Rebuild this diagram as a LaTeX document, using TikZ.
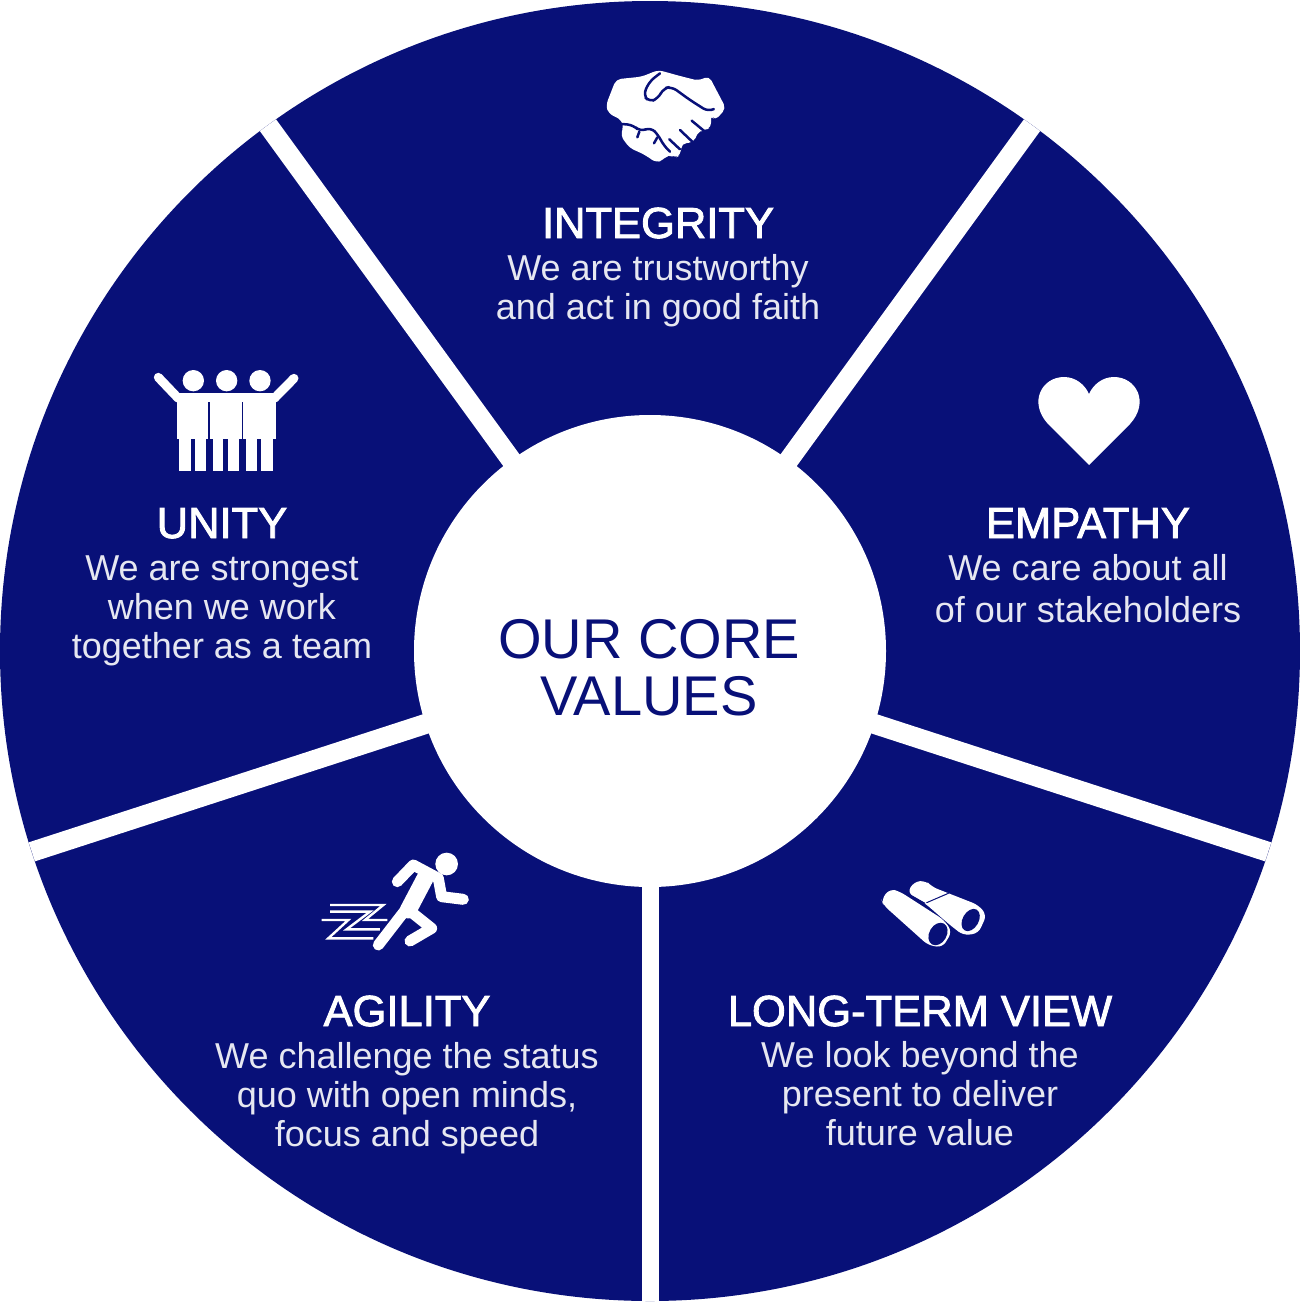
\documentclass[tikz,border=0pt]{standalone}
\usepackage{fontspec}
\usetikzlibrary{calc}
\setmainfont{Liberation Sans}
\newfontface\headface{Liberation Sans}[FakeBold=2]
\definecolor{navy}{RGB}{8,16,120}
\tikzset{
  headtext/.style={text=white,anchor=base,inner sep=0pt,font=\headface\fontsize{43.5}{44}\selectfont},
  bodytext/.style={text=white!90!navy,anchor=base,inner sep=0pt,font=\fontsize{36}{36}\selectfont},
  coretext/.style={text=navy,anchor=base,inner sep=0pt,font=\fontsize{56}{56}\selectfont},
  spoke/.style={draw=white,line width=20pt},
  iconline/.style={draw=navy,line width=2.5pt,line cap=round,line join=round},
  limb/.style={draw=white,line width=11pt,line cap=round,line join=round},
  armlimb/.style={draw=white,line width=9pt,line cap=round,line join=round},
  speed/.style={draw=white,line width=2.4pt,line join=miter},
}
\begin{document}
\begin{tikzpicture}[x=1pt,y=-1pt]
\useasboundingbox (0,0) rectangle (1300,1302);
\coordinate (hub) at (650,651);
\fill[navy] (hub) circle (650);
\foreach \a/\n in {18/b,-54/c,234/d,162/e}{
  \coordinate (rim\n) at ($(hub)+(\a:650)$);
  \draw[spoke] (hub) -- (rim\n);
}
\coordinate (rima) at ($(hub)+(90:650)$);
\draw[spoke,line width=17pt] (hub) -- (rima);
\fill[white] (hub) circle (236);

% Centre
\node[coretext] (core1) at (649,658) {OUR CORE};
\node[coretext] (core2) at (649,715) {VALUES};

% Integrity
\node[headtext] (int0) at (658,238) {INTEGRITY};
\node[bodytext] (int1) at (658,280) {We are trustworthy};
\node[bodytext] (int2) at (658,319) {and act in good faith};
% Empathy
\node[headtext] (emp0) at (1088,538) {EMPATHY};
\node[bodytext] (emp1) at (1088,580) {We care about all};
\node[bodytext] (emp2) at (1088,622) {of our stakeholders};
% Unity
\node[headtext] (uni0) at (222,538) {UNITY};
\node[bodytext] (uni1) at (222,580) {We are strongest};
\node[bodytext] (uni2) at (222,619) {when we work};
\node[bodytext] (uni3) at (222,658) {together as a team};
% Agility
\node[headtext] (agi0) at (407,1026) {AGILITY};
\node[bodytext] (agi1) at (407,1068) {We challenge the status};
\node[bodytext] (agi2) at (407,1107) {quo with open minds,};
\node[bodytext] (agi3) at (407,1146) {focus and speed};
% Long-term view
\node[headtext] (lon0) at (920,1026) {LONG-TERM VIEW};
\node[bodytext] (lon1) at (920,1067) {We look beyond the};
\node[bodytext] (lon2) at (920,1106) {present to deliver};
\node[bodytext] (lon3) at (920,1145) {future value};

% Heart
\fill[white] (1089,465) -- (1048,424) .. controls (1028,402) and (1042,377) .. (1064,377)
  .. controls (1076,377) and (1085,385) .. (1089,394)
  .. controls (1093,385) and (1102,377) .. (1114,377)
  .. controls (1136,377) and (1150,402) .. (1130,424) -- cycle;

% Handshake
\begin{scope}[shift={(580pt,-50pt)},x=0.3333pt,y=-0.3333pt]
\fill[white,rounded corners=5pt] (78,165) -- (108,88) -- (185,80) -- (235,60) -- (300,78) -- (355,92) -- (387,78)
  -- (438,175) -- (405,212) -- (392,195) -- (395,230) -- (375,242) -- (358,240) -- (340,278) -- (305,280)
  -- (302,315) -- (285,324) -- (265,312) -- (250,330) -- (228,338) -- (200,318) -- (175,305) -- (150,295)
  -- (122,258) -- (130,232) -- (125,210) -- (85,190) -- cycle;
\draw[iconline,rounded corners=6pt] (240,70) -- (208,95) -- (190,135) -- (208,156) -- (235,145) -- (250,115)
  -- (275,110) -- (330,150) -- (385,185) -- (400,178);
\draw[iconline] (335,212) -- (375,245);
\draw[iconline] (300,240) -- (340,278);
\draw[iconline] (268,268) -- (300,298);
\draw[iconline,rounded corners=6pt] (125,222) -- (160,225) -- (180,245) -- (212,232) -- (235,255) -- (250,285) -- (270,305);
\draw[iconline] (178,245) -- (172,262);
\draw[iconline] (232,262) -- (222,280);
\end{scope}

% Unity group
\begin{scope}[shift={(140pt,-360pt)},x=0.3333pt,y=-0.3333pt]
\foreach \c in {160,260,360}{\fill[white] (\c,62) circle (32);}
\fill[white] (110,100) rectangle (408,238);
\foreach \l/\r in {118/152,164/198,218/250,264/298,318/352,364/398}{
  \fill[white] (\l,230) rectangle (\r,333);}
\draw[armlimb] (55,52) -- (115,115);
\draw[armlimb] (462,55) -- (403,115);
\fill[navy] (205,125) rectangle (210,238);
\fill[navy] (305,125) rectangle (310,238);
\end{scope}

% Runner
\begin{scope}[shift={(310pt,-840pt)},x=0.3333pt,y=-0.3333pt]
\fill[white] (410,72) circle (34);
\draw[limb] (262,125) -- (310,75) -- (385,115) -- (395,170) -- (460,178);
\draw[limb,line width=17pt] (345,115) -- (295,210);
\draw[limb] (205,315) -- (290,205) -- (365,265) -- (300,303);
\draw[speed] (60,195) -- (220,195) -- (165,240) -- (232,240);
\draw[speed] (60,215) -- (180,215) -- (110,268) -- (210,268);
\draw[speed] (35,240) -- (115,240) -- (55,295) -- (190,295);
\end{scope}

% Binoculars
\begin{scope}[shift={(870pt,-870pt)},x=0.3333pt,y=-0.3333pt]
\fill[white,rounded corners=6pt] (112,68) -- (132,35) -- (168,32) -- (185,50) -- (325,105) -- (350,135) -- (325,190) -- (280,196) -- (240,165) -- (165,100) -- cycle;
\fill[white,rounded corners=6pt] (34,88) -- (60,56) -- (90,65) -- (222,150) -- (246,185) -- (218,232) -- (175,226) -- (40,105) -- cycle;
\draw[iconline,line width=1pt] (112,70) -- (165,100);
\draw[iconline,line width=1pt] (170,98) -- (235,70);
\fill[navy,rotate around={-30:(204,192)}] (204,192) ellipse (26 and 36);
\fill[navy,rotate around={-30:(302,150)}] (302,150) ellipse (24 and 36);
\end{scope}
\end{tikzpicture}
\end{document}
